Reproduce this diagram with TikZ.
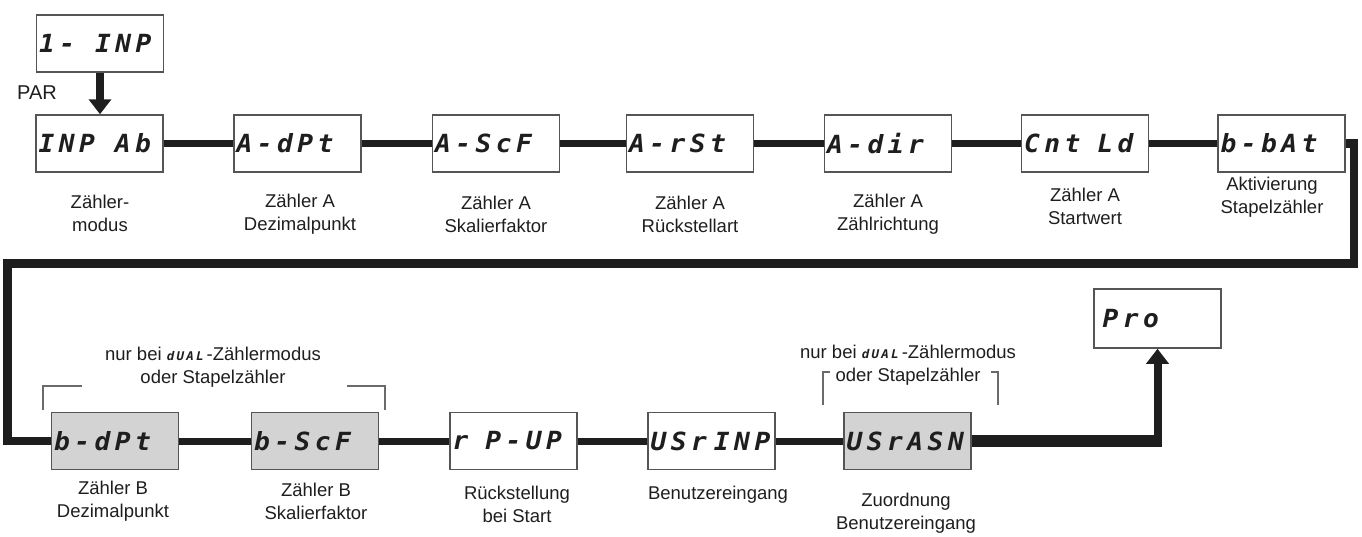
\documentclass[tikz,border=0pt]{standalone}
\usepackage{fontspec}
\setmainfont{Liberation Sans}
\newfontfamily\segfont[LetterSpace=18,FakeStretch=1.05]{DejaVu Sans Mono}
\usetikzlibrary{arrows.meta,calc}
\definecolor{boxline}{HTML}{555555}
\definecolor{boxgray}{HTML}{D3D3D3}
\definecolor{ink}{HTML}{1E1E1E}
\definecolor{brkc}{HTML}{6A6A6A}
\newcommand{\cell}{\hspace*{20pt}}
\newcommand{\hcell}{\hspace*{17pt}}
\newcommand{\dualtxt}{{\segfont\bfseries\itshape\fontsize{12}{12}\selectfont dUAL}}
\tikzset{
  disp/.style={draw=boxline, line width=1.5pt, fill=white, minimum width=127pt,
    minimum height=57pt, inner xsep=2.5pt, inner ysep=0pt, text width=122pt, align=left,
    font=\segfont\bfseries\itshape\fontsize{25}{25}\selectfont, text=ink},
  dispg/.style={disp, fill=boxgray},
  lab/.style={align=center, font=\fontsize{18.5}{23}\selectfont, text=ink, inner sep=0pt},
  conn/.style={draw=ink, line width=7pt},
  wrap/.style={draw=ink, line width=8.5pt, line join=miter},
  brk/.style={draw=brkc, line width=1.3pt},
}
\begin{document}
\begin{tikzpicture}[x=1pt,y=-1pt]
\useasboundingbox (0,0) rectangle (1362,536);
% top
\node[disp] (top) at (100,43.5) {\mbox{1-\cell INP}};
\node[lab, font=\fontsize{20}{20}\selectfont] (par) at (37,93) {PAR};
% row 1
\node[disp] (b1) at (99.5,143.5) {\mbox{INP\cell Ab}};
\node[disp] (b2) at (297.5,143.5) {\mbox{A-dPt}};
\node[disp] (b3) at (496,143.5) {\mbox{A-ScF}};
\node[disp] (b4) at (690,143.5) {\mbox{A-rSt}};
\node[disp] (b5) at (888,143.5) {\mbox{A-dir}};
\node[disp] (b6) at (1085,143.5) {\mbox{Cnt\hcell Ld}};
\node[disp] (b7) at (1281.5,143.5) {\mbox{b-bAt}};
\draw[line width=8pt, draw=ink, -{Triangle[width=22pt,length=15pt]}] (top.south) -- (top.south |- b1.north);
\draw[conn] (b1.east) -- (b2.west);
\draw[conn] (b2.east) -- (b3.west);
\draw[conn] (b3.east) -- (b4.west);
\draw[conn] (b4.east) -- (b5.west);
\draw[conn] (b5.east) -- (b6.west);
\draw[conn] (b6.east) -- (b7.west);
\node[lab] (l1) at (100,213) {Zähler-\\modus};
\node[lab] (l2) at (300,214) {Zähler A\\Dezimalpunkt};
\node[lab] (l3) at (496,214) {Zähler A\\Skalierfaktor};
\node[lab] (l4) at (690,214) {Zähler A\\Rückstellart};
\node[lab] (l5) at (888,214) {Zähler A\\Zählrichtung};
\node[lab] (l6) at (1085,206) {Zähler A\\Startwert};
\node[lab] (l7) at (1272,197) {Aktivierung\\Stapelzähler};
% row 2
\node[dispg] (c1) at (115,441) {\mbox{b-dPt}};
\node[dispg] (c2) at (315,441) {\mbox{b-ScF}};
\node[disp] (c3) at (513.5,441) {\mbox{r\hcell P-UP}};
\node[disp] (c4) at (711.5,441) {\mbox{USr\hspace*{7pt}INP}};
\node[dispg] (c5) at (907.5,441) {\mbox{USrASN}};
\node[disp, minimum height=59pt] (pro) at (1157.5,318.5) {\mbox{\hspace*{6pt}Pro}};
% wrap connector
\coordinate (r2) at (1354,263.5);
\coordinate (l0) at (7.5,263.5);
\draw[wrap] (b7.east) -| (r2) -- (l0) |- (c1.west);
\draw[conn] (c1.east) -- (c2.west);
\draw[conn] (c2.east) -- (c3.west);
\draw[conn] (c3.east) -- (c4.west);
\draw[conn] (c4.east) -- (c5.west);
\coordinate (k1) at (pro.south |- c5.east);
\draw[draw=ink, line width=12pt] (c5.east) -- ([xshift=4pt]k1);
\draw[draw=ink, line width=8pt, -{Triangle[width=22pt,length=15pt]}] ([yshift=-6pt]k1) -- (pro.south);
\node[lab] (m1) at (113,501) {Zähler B\\Dezimalpunkt};
\node[lab] (m2) at (316,501) {Zähler B\\Skalierfaktor};
\node[lab] (m3) at (517,504) {Rückstellung\\bei Start};
\node[lab] (m4) at (718,495) {Benutzereingang};
\node[lab] (m5) at (906,513) {Zuordnung\\Benutzereingang};
% notes
\node[lab] (n1) at (213,367) {nur bei \dualtxt\,-Zählermodus\\oder Stapelzähler};
\node[lab] (n2) at (908,365) {nur bei \dualtxt\,-Zählermodus\\oder Stapelzähler};
\draw[brk] (43,410) |- (82,386);
\draw[brk] (347,386) -| (385,410);
\draw[brk] (823,405) |- (830,372);
\draw[brk] (991,372) -| (998,405);
\end{tikzpicture}
\end{document}
